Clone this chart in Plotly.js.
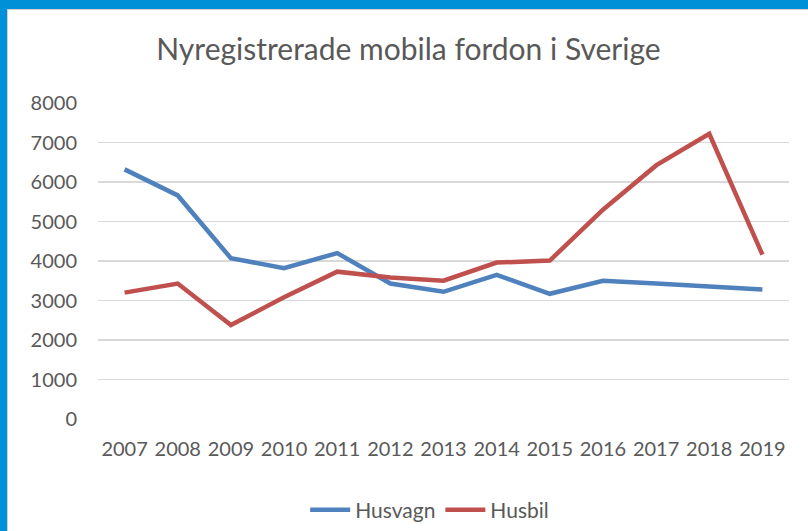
<!DOCTYPE html>
<html>
<head>
<meta charset="utf-8">
<script src="https://cdn.plot.ly/plotly-3.0.1.min.js"></script>
<style>
html,body{margin:0;padding:0;width:808px;height:531px;overflow:hidden;background:#0090D8;}
#frame{position:absolute;left:7px;top:9px;width:801px;height:522px;background:#fff;border-left:1px solid #d0d0d0;border-top:1px solid #d0d0d0;}
#chart{position:absolute;left:0;top:0;width:801px;height:522px;}
</style>
</head>
<body>
<div id="frame"><div id="chart"></div></div>
<script>
const years = ['2007','2008','2009','2010','2011','2012','2013','2014','2015','2016','2017','2018','2019'];
const husvagn = [6320, 5660, 4070, 3820, 4200, 3430, 3220, 3650, 3170, 3500, 3430, 3350, 3280];
const husbil = [3200, 3430, 2380, 3080, 3730, 3580, 3500, 3960, 4010, 5300, 6420, 7220, 4160];
const yTicks = [0, 1000, 2000, 3000, 4000, 5000, 6000, 7000, 8000];

const font = {family: 'Lato, "Open Sans", sans-serif', color: '#595959'};

const traces = [
  {x: years, y: husvagn, name: 'Husvagn', type: 'scatter', mode: 'lines',
   line: {color: '#4F81BD', width: 4.5, shape: 'linear'}},
  {x: years, y: husbil, name: 'Husbil', type: 'scatter', mode: 'lines',
   line: {color: '#C0504D', width: 4.5, shape: 'linear'}}
];

const layout = {
  width: 801, height: 522,
  margin: {l: 90, r: 20, t: 93, b: 113},
  paper_bgcolor: '#fff', plot_bgcolor: '#fff',
  font: Object.assign({size: 20}, font),
  title: {text: 'Nyregistrerade mobila fordon i Sverige', x: 0.5, xanchor: 'center', y: 0.925, yanchor: 'middle',
          font: Object.assign({}, font, {size: 30})},
  xaxis: {type: 'category', range: [-0.5, 12.5], showgrid: false, zeroline: false, showline: false, automargin: false,
          ticks: '', ticklabelstandoff: 16, tickfont: Object.assign({size: 20}, font), fixedrange: true},
  yaxis: {range: [0, 8000], tickvals: yTicks, ticktext: yTicks.map(String), showgrid: true, gridcolor: '#d9d9d9', gridwidth: 1.5,
          zeroline: false, showline: false, ticks: '', ticklabelstandoff: 20, automargin: false,
          tickfont: Object.assign({size: 20}, font), fixedrange: true},
  showlegend: true,
  legend: {orientation: 'h', x: 0.48, xanchor: 'center', yref: 'container', y: 0.042, yanchor: 'middle',
           font: Object.assign({size: 21}, font), itemwidth: 40, tracegroupgap: 0}
};

Plotly.newPlot('chart', traces, layout, {displayModeBar: false, staticPlot: true});
</script>
</body>
</html>
